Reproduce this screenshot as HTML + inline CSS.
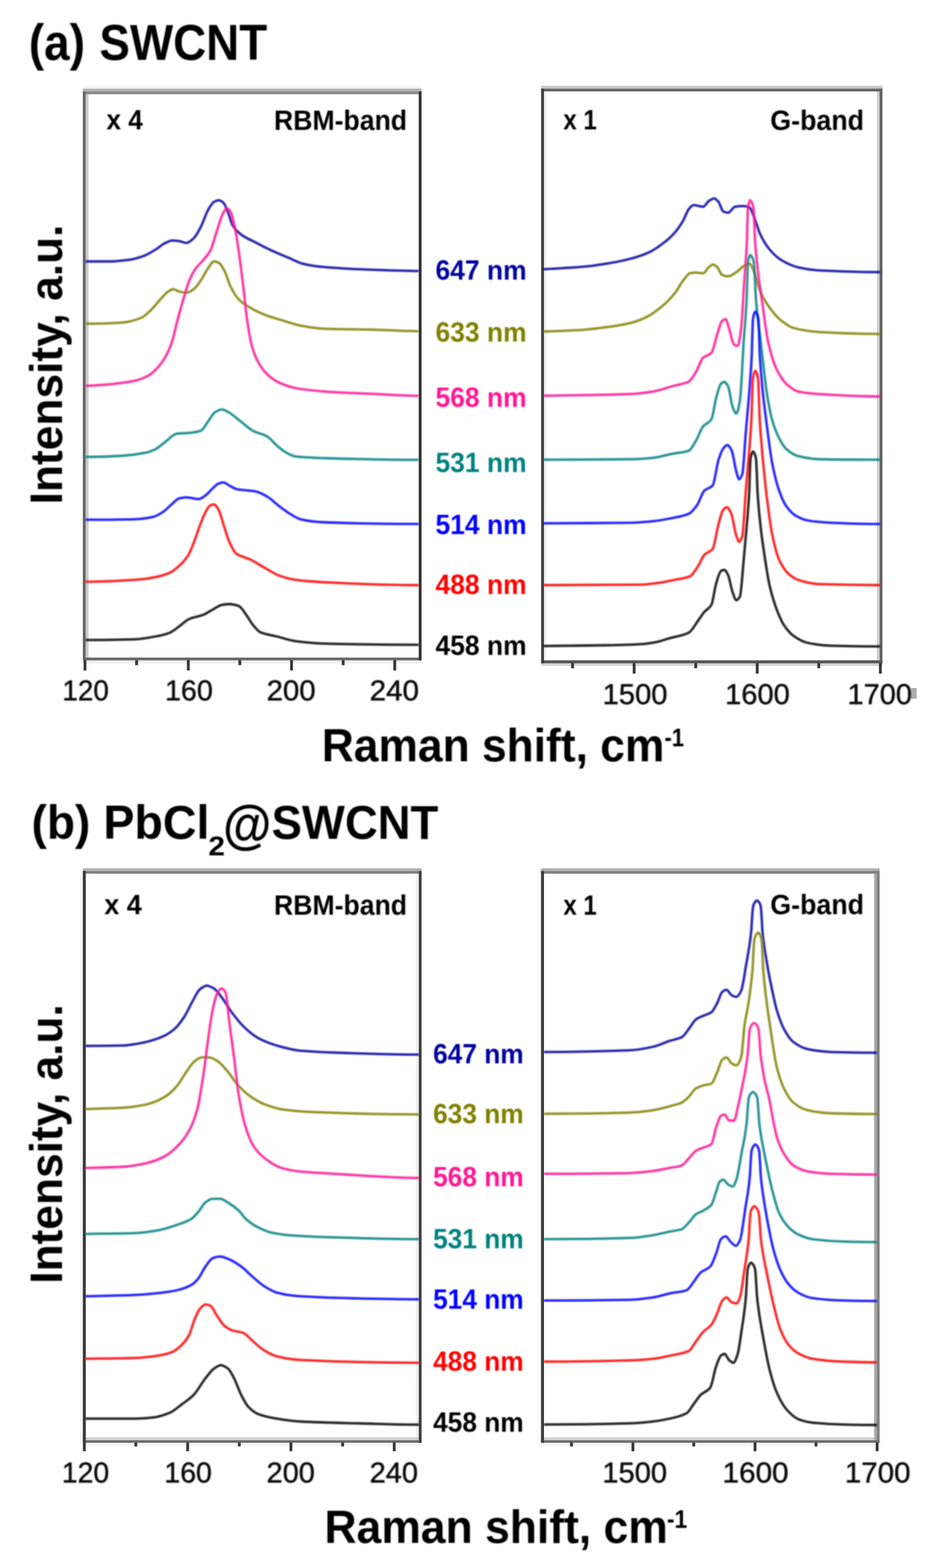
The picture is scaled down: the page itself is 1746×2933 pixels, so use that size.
<!DOCTYPE html>
<html lang="en">
<head>
<meta charset="utf-8">
<title>Raman spectra of SWCNT and PbCl2@SWCNT</title>
<style>
html,body{margin:0;padding:0;background:#fff;}
body{width:1746px;height:2933px;}
svg{display:block;font-family:"Liberation Sans", sans-serif;font-weight:bold;fill:#000;}
.cv{fill:none;stroke-width:4.8;stroke-linejoin:round;stroke-linecap:butt;stroke-opacity:0.82}
</style>
</head>
<body>
<svg width="1746" height="2933" viewBox="0 0 1746 2933" role="img" aria-label="Raman spectra (RBM-band and G-band) of SWCNT and PbCl2@SWCNT at seven laser wavelengths">
<defs>
<filter id="fc" filterUnits="userSpaceOnUse" x="0" y="0" width="1746" height="2933"><feGaussianBlur stdDeviation="1.0"/></filter>
<filter id="ft" filterUnits="userSpaceOnUse" x="0" y="0" width="1746" height="2933"><feGaussianBlur stdDeviation="1.2"/></filter>
<filter id="ff" filterUnits="userSpaceOnUse" x="0" y="0" width="1746" height="2933"><feGaussianBlur stdDeviation="0.5"/></filter>
<clipPath id="clip-aR"><rect x="160.4" y="176.3" width="623.2" height="1053.7"/></clipPath>
<clipPath id="clip-aG"><rect x="1017.9" y="171.0" width="628.3" height="1064.2"/></clipPath>
<clipPath id="clip-bR"><rect x="160.6" y="1634.3" width="623.1" height="1059.8"/></clipPath>
<clipPath id="clip-bG"><rect x="1018.0" y="1634.3" width="623.0" height="1059.8"/></clipPath>
</defs>
<rect x="0" y="0" width="1746" height="2933" fill="#ffffff"/>
<g id="axes" filter="url(#ff)">
<g id="frame-aR">
<rect x="155.0" y="160.4" width="633.9" height="5.4" fill="#f3f3f3"/>
<rect x="155.0" y="1235.2" width="633.9" height="5.7" fill="#eeeeee"/>
<rect x="160.4" y="171.0" width="5.4" height="1064.2" fill="#cccccc"/>
<rect x="155.0" y="165.8" width="633.9" height="5.2" fill="#b3b3b3"/>
<rect x="155.0" y="171.0" width="633.9" height="5.3" fill="#8a8a8a"/>
<rect x="155.0" y="1230.0" width="633.9" height="5.2" fill="#6a6a6a"/>
<rect x="155.0" y="171.0" width="5.4" height="1064.2" fill="#666666"/>
<rect x="783.6" y="171.0" width="5.3" height="1064.2" fill="#333333"/>
<rect x="156.4" y="1234.7" width="5.3" height="19.5" fill="#383838"/>
<rect x="253.0" y="1234.7" width="5.3" height="9.5" fill="#383838"/>
<rect x="349.7" y="1234.7" width="5.3" height="19.5" fill="#383838"/>
<rect x="446.2" y="1234.7" width="5.3" height="9.5" fill="#383838"/>
<rect x="542.9" y="1234.7" width="5.3" height="19.5" fill="#383838"/>
<rect x="639.5" y="1234.7" width="5.3" height="9.5" fill="#383838"/>
<rect x="736.1" y="1234.7" width="5.3" height="19.5" fill="#383838"/>
</g>
<g id="frame-aG">
<rect x="1017.9" y="165.8" width="5.1" height="1074.9" fill="#f0f0f0"/>
<rect x="1012.7" y="1240.7" width="638.6" height="5.0" fill="#d4d4d4"/>
<rect x="1641.1" y="165.8" width="5.1" height="1074.9" fill="#cccccc"/>
<rect x="1012.7" y="160.4" width="638.6" height="5.4" fill="#c6c6c6"/>
<rect x="1012.7" y="165.8" width="638.6" height="5.2" fill="#666666"/>
<rect x="1646.2" y="165.8" width="5.1" height="1074.9" fill="#606060"/>
<rect x="1012.7" y="1235.2" width="638.6" height="5.5" fill="#555555"/>
<rect x="1012.7" y="165.8" width="5.2" height="1074.9" fill="#3c3c3c"/>
<rect x="1068.9" y="1240.2" width="5.3" height="9.8" fill="#383838"/>
<rect x="1184.1" y="1240.2" width="5.3" height="19.8" fill="#383838"/>
<rect x="1299.3" y="1240.2" width="5.3" height="9.8" fill="#383838"/>
<rect x="1414.4" y="1240.2" width="5.3" height="19.8" fill="#383838"/>
<rect x="1529.6" y="1240.2" width="5.3" height="9.8" fill="#383838"/>
<rect x="1644.8" y="1240.2" width="5.3" height="19.8" fill="#383838"/>
</g>
<g id="frame-bR">
<rect x="149.7" y="1629.2" width="5.3" height="1069.5" fill="#f4f4f4"/>
<rect x="155.0" y="2698.7" width="633.9" height="5.3" fill="#f2f2f2"/>
<rect x="778.4" y="1629.2" width="5.3" height="1069.5" fill="#f0f0f0"/>
<rect x="155.0" y="2688.6" width="633.9" height="5.5" fill="#d0d0d0"/>
<rect x="155.0" y="1624.2" width="633.9" height="5.0" fill="#b0b0b0"/>
<rect x="155.0" y="1629.2" width="633.9" height="5.1" fill="#808080"/>
<rect x="155.0" y="2694.1" width="633.9" height="4.6" fill="#6a6a6a"/>
<rect x="783.7" y="1629.2" width="5.2" height="1069.5" fill="#404040"/>
<rect x="155.0" y="1629.2" width="5.6" height="1069.5" fill="#3a3a3a"/>
<rect x="155.2" y="2698.2" width="5.3" height="16.4" fill="#383838"/>
<rect x="251.5" y="2698.2" width="5.3" height="7.4" fill="#383838"/>
<rect x="348.5" y="2698.2" width="5.3" height="16.4" fill="#383838"/>
<rect x="445.2" y="2698.2" width="5.3" height="7.4" fill="#383838"/>
<rect x="541.8" y="2698.2" width="5.3" height="16.4" fill="#383838"/>
<rect x="638.5" y="2698.2" width="5.3" height="7.4" fill="#383838"/>
<rect x="735.1" y="2698.2" width="5.3" height="16.4" fill="#383838"/>
</g>
<g id="frame-bG">
<rect x="1007.2" y="1629.2" width="5.3" height="1069.5" fill="#f8f8f8"/>
<rect x="1012.5" y="2698.7" width="633.6" height="5.3" fill="#f2f2f2"/>
<rect x="1012.5" y="2688.6" width="633.6" height="5.5" fill="#d0d0d0"/>
<rect x="1012.5" y="1624.2" width="633.6" height="5.0" fill="#b0b0b0"/>
<rect x="1635.8" y="1629.2" width="5.2" height="1069.5" fill="#aaaaaa"/>
<rect x="1012.5" y="1629.2" width="633.6" height="5.1" fill="#808080"/>
<rect x="1641.0" y="1629.2" width="5.1" height="1069.5" fill="#808080"/>
<rect x="1012.5" y="2694.1" width="633.6" height="4.6" fill="#6a6a6a"/>
<rect x="1012.5" y="1629.2" width="5.5" height="1069.5" fill="#3a3a3a"/>
<rect x="1066.8" y="2698.2" width="5.3" height="7.4" fill="#383838"/>
<rect x="1181.8" y="2698.2" width="5.3" height="16.4" fill="#383838"/>
<rect x="1295.6" y="2698.2" width="5.3" height="7.4" fill="#383838"/>
<rect x="1410.3" y="2698.2" width="5.3" height="16.4" fill="#383838"/>
<rect x="1524.4" y="2698.2" width="5.3" height="7.4" fill="#383838"/>
<rect x="1638.8" y="2698.2" width="5.3" height="16.4" fill="#383838"/>
</g>
<rect x="1705" y="1287" width="10.5" height="20" fill="#adadad"/>
</g>
<g id="spectra" filter="url(#fc)">
<g id="curves-aR" clip-path="url(#clip-aR)">
<path class="cv" stroke="#0000a0" d="M159.1 489.0C159.4 489.0 159.7 489.0 160.0 489.0C175.6 489.0 191.1 489.0 206.7 489.0C218.6 489.0 230.4 487.5 242.3 485.9C251.2 484.7 260.1 482.0 269.0 478.8C276.4 476.1 283.8 471.2 291.2 466.8C297.1 463.2 303.1 457.5 309.0 454.7C313.5 452.7 317.9 449.9 322.3 449.9C326.8 449.9 331.2 450.6 335.7 451.2C340.1 451.8 344.6 454.3 349.0 454.3C353.5 454.3 357.9 449.9 362.4 445.8C366.8 441.8 371.3 432.9 375.7 424.5C380.2 416.1 384.6 401.1 389.1 393.4C392.8 386.9 396.5 379.8 400.2 377.8C403.1 376.2 406.1 374.7 409.1 374.7C412.0 374.7 415.0 376.7 418.0 379.1C420.9 381.5 423.9 390.8 426.9 397.8C429.8 404.9 432.8 417.6 435.8 422.3C440.9 430.5 446.1 434.9 451.3 438.7C460.2 445.4 469.1 448.7 478.0 453.4C488.4 458.9 498.8 464.2 509.1 469.0C519.5 473.8 529.9 477.9 540.3 482.3C549.2 486.1 558.1 491.3 567.0 493.4C578.8 496.3 590.7 498.1 602.5 499.2C626.3 501.5 650.0 502.7 673.7 503.7C710.8 505.1 747.8 506.8 784.9 506.8C785.3 506.8 785.8 506.8 786.2 506.8"/>
<path class="cv" stroke="#808000" d="M159.1 605.5C159.4 605.5 159.7 605.5 160.0 605.5C183.0 605.5 206.0 604.7 228.9 603.3C240.8 602.6 252.7 599.2 264.5 594.4C270.5 592.0 276.4 585.7 282.3 580.2C288.2 574.6 294.2 566.4 300.1 560.1C305.3 554.7 310.5 547.4 315.7 544.6C318.6 543.0 321.6 541.0 324.6 541.0C328.3 541.0 332.0 544.7 335.7 545.5C340.1 546.4 344.6 547.3 349.0 547.3C353.5 547.3 357.9 544.0 362.4 541.0C366.8 538.0 371.3 530.9 375.7 524.6C380.2 518.3 384.6 508.5 389.1 502.3C392.8 497.2 396.5 489.0 400.2 489.0C403.1 489.0 406.1 490.0 409.1 491.2C412.8 492.7 416.5 500.0 420.2 506.8C423.9 513.5 427.6 528.3 431.3 535.7C436.5 546.0 441.7 554.8 446.9 560.1C452.8 566.2 458.7 569.9 464.7 573.5C475.0 579.8 485.4 585.0 495.8 589.1C507.7 593.6 519.5 596.6 531.4 600.2C541.8 603.3 552.1 607.2 562.5 609.1C577.3 611.8 592.2 614.3 607.0 614.9C636.6 616.0 666.3 615.9 695.9 616.6C725.6 617.3 755.2 619.3 784.9 619.3C785.3 619.3 785.8 619.3 786.2 619.3"/>
<path class="cv" stroke="#ff1493" d="M159.1 721.6C159.4 721.6 159.7 721.6 160.0 721.6C180.0 721.6 200.0 719.2 220.1 717.1C231.9 715.9 243.8 714.2 255.6 711.4C263.0 709.6 270.5 706.6 277.9 702.5C283.8 699.2 289.7 693.4 295.7 686.9C300.8 681.2 306.0 674.1 311.2 664.7C314.9 657.9 318.6 649.2 322.3 638.0C325.3 629.0 328.3 613.7 331.2 602.4C334.9 588.3 338.7 574.9 342.4 562.4C346.1 549.8 349.8 535.9 353.5 526.8C357.2 517.7 360.9 510.0 364.6 504.6C369.8 496.9 375.0 493.2 380.2 486.8C384.6 481.3 389.1 477.2 393.5 469.0C398.0 460.8 402.4 441.8 406.8 428.9C410.6 418.2 414.3 403.8 418.0 397.8C420.2 394.2 422.4 389.8 424.6 389.8C426.9 389.8 429.1 392.6 431.3 395.6C434.3 399.6 437.2 414.8 440.2 428.9C443.2 443.1 446.1 465.4 449.1 486.8C451.3 502.8 453.5 521.6 455.8 540.1C458.0 558.6 460.2 582.8 462.4 598.0C465.4 618.1 468.4 636.3 471.3 646.9C475.0 660.1 478.7 669.0 482.5 675.8C488.4 686.7 494.3 694.7 500.2 700.2C507.7 707.2 515.1 712.4 522.5 715.8C532.9 720.5 543.2 724.2 553.6 726.0C571.4 729.2 589.2 731.0 607.0 732.3C636.6 734.4 666.3 735.4 695.9 736.7C725.6 738.0 755.2 740.3 784.9 740.3C785.3 740.3 785.8 740.3 786.2 740.3"/>
<path class="cv" stroke="#008080" d="M159.1 854.7C159.4 854.7 159.7 854.7 160.0 854.7C183.0 854.7 206.0 853.8 228.9 852.5C243.8 851.7 258.6 849.8 273.4 846.7C279.4 845.5 285.3 843.0 291.2 840.1C297.1 837.1 303.1 831.0 309.0 826.7C316.4 821.4 323.8 812.0 331.2 811.2C338.7 810.3 346.1 810.5 353.5 809.8C360.9 809.2 368.3 808.3 375.7 805.8C380.2 804.3 384.6 794.7 389.1 788.9C393.5 783.1 398.0 773.9 402.4 771.1C406.8 768.4 411.3 765.8 415.7 765.8C420.2 765.8 424.6 769.5 429.1 772.0C436.5 776.2 443.9 783.3 451.3 788.9C458.7 794.6 466.1 801.9 473.6 805.8C482.5 810.5 491.3 811.3 500.2 816.5C506.2 819.9 512.1 828.4 518.0 833.4C524.0 838.4 529.9 843.6 535.8 846.7C541.8 849.8 547.7 853.2 553.6 853.9C571.4 855.9 589.2 856.4 607.0 857.0C666.3 858.7 725.6 860.1 784.9 860.1C785.3 860.1 785.8 860.1 786.2 860.1"/>
<path class="cv" stroke="#0000ff" d="M159.1 972.2C159.4 972.2 159.7 972.2 160.0 972.2C190.4 972.2 220.8 971.9 251.2 971.3C263.0 971.0 274.9 969.4 286.8 966.8C292.7 965.5 298.6 961.7 304.6 957.9C310.5 954.2 316.4 947.2 322.3 942.4C326.8 938.7 331.2 933.1 335.7 932.1C340.1 931.1 344.6 930.4 349.0 930.4C356.4 930.4 363.9 933.5 371.3 933.5C375.7 933.5 380.2 929.8 384.6 926.8C389.1 923.8 393.5 917.4 398.0 913.5C401.7 910.2 405.4 905.9 409.1 904.6C412.0 903.4 415.0 902.3 418.0 902.3C421.7 902.3 425.4 906.2 429.1 908.1C433.5 910.4 438.0 913.8 442.4 914.8C454.3 917.4 466.1 916.8 478.0 919.2C485.4 920.7 492.8 924.8 500.2 929.0C507.7 933.2 515.1 941.3 522.5 946.8C529.9 952.3 537.3 958.1 544.7 962.4C550.6 965.8 556.6 969.9 562.5 971.3C577.3 974.6 592.2 976.5 607.0 977.0C666.3 979.2 725.6 980.2 784.9 980.2C785.3 980.2 785.8 980.2 786.2 980.2"/>
<path class="cv" stroke="#ff0000" d="M159.1 1088.2C159.4 1088.2 159.7 1088.2 160.0 1088.2C190.4 1088.2 220.8 1086.7 251.2 1084.7C264.5 1083.8 277.9 1081.9 291.2 1079.3C300.1 1077.7 309.0 1075.3 317.9 1071.3C323.8 1068.7 329.8 1063.4 335.7 1058.0C340.9 1053.3 346.1 1048.1 351.3 1040.2C355.0 1034.5 358.7 1024.9 362.4 1015.7C366.1 1006.6 369.8 994.2 373.5 984.6C377.2 975.0 380.9 964.4 384.6 957.9C387.6 952.7 390.5 946.8 393.5 945.5C395.7 944.5 398.0 943.7 400.2 943.7C403.1 943.7 406.1 948.7 409.1 953.5C412.0 958.2 415.0 971.3 418.0 980.2C421.7 991.3 425.4 1005.5 429.1 1013.5C433.5 1023.1 438.0 1032.6 442.4 1035.8C451.3 1042.1 460.2 1042.5 469.1 1046.9C478.0 1051.2 486.9 1057.5 495.8 1062.4C504.7 1067.4 513.6 1073.6 522.5 1076.7C532.9 1080.3 543.2 1083.3 553.6 1084.7C571.4 1087.0 589.2 1088.3 607.0 1089.1C666.3 1092.0 725.6 1094.5 784.9 1094.5C785.3 1094.5 785.8 1094.5 786.2 1094.5"/>
<path class="cv" stroke="#000000" d="M159.1 1197.2C159.4 1197.2 159.7 1197.2 160.0 1197.2C190.4 1197.2 220.8 1196.8 251.2 1195.9C264.5 1195.5 277.9 1193.0 291.2 1190.5C300.1 1188.9 309.0 1186.9 317.9 1183.4C323.8 1181.1 329.8 1175.6 335.7 1171.4C341.6 1167.2 347.5 1160.7 353.5 1158.1C362.4 1154.1 371.3 1153.6 380.2 1150.1C386.1 1147.7 392.0 1143.4 398.0 1140.3C403.9 1137.2 409.8 1132.3 415.7 1131.4C420.2 1130.7 424.6 1130.0 429.1 1130.0C435.0 1130.0 440.9 1131.5 446.9 1133.6C451.3 1135.2 455.8 1143.3 460.2 1149.2C464.7 1155.0 469.1 1163.8 473.6 1169.2C478.0 1174.5 482.5 1180.5 486.9 1182.5C497.3 1187.1 507.7 1187.9 518.0 1190.5C529.9 1193.5 541.8 1197.9 553.6 1199.4C571.4 1201.7 589.2 1203.4 607.0 1203.9C666.3 1205.4 725.6 1206.1 784.9 1206.1C785.3 1206.1 785.8 1206.1 786.2 1206.1"/>
</g>
<g id="curves-aG" clip-path="url(#clip-aG)">
<path class="cv" stroke="#0000a0" d="M1015.7 503.7C1040.1 502.2 1064.5 501.3 1088.9 499.2C1103.8 498.0 1118.6 495.8 1133.4 493.4C1148.2 491.1 1163.1 488.3 1177.9 484.5C1189.8 481.5 1201.6 477.8 1213.5 472.5C1222.4 468.6 1231.3 462.3 1240.2 455.6C1247.6 450.1 1255.0 443.9 1262.4 435.6C1267.6 429.8 1272.8 422.1 1278.0 413.4C1281.7 407.1 1285.4 395.5 1289.1 391.1C1292.0 387.7 1295.0 383.6 1298.0 383.6C1303.9 383.6 1309.8 386.7 1315.8 386.7C1319.5 386.7 1323.2 377.9 1326.9 375.6C1330.1 373.6 1333.4 371.1 1336.7 371.1C1339.3 371.1 1342.0 374.7 1344.7 377.8C1347.6 381.3 1350.6 394.3 1353.6 395.6C1356.5 396.9 1359.5 397.8 1362.5 397.8C1366.9 397.8 1371.4 387.4 1375.8 386.7C1381.0 385.9 1386.2 385.4 1391.4 385.4C1395.1 385.4 1398.8 386.4 1402.5 388.0C1405.5 389.3 1408.4 399.6 1411.4 406.7C1415.1 415.6 1418.8 430.1 1422.5 437.8C1428.4 450.3 1434.4 459.8 1440.3 466.8C1447.7 475.4 1455.1 482.4 1462.5 486.8C1472.9 492.9 1483.3 497.8 1493.7 500.1C1507.0 503.1 1520.4 505.2 1533.7 505.9C1570.8 507.8 1607.8 509.0 1644.9 509.0C1645.8 509.0 1646.6 509.0 1647.5 509.0"/>
<path class="cv" stroke="#808000" d="M1015.7 620.2C1040.1 619.2 1064.5 618.6 1088.9 617.1C1103.8 616.1 1118.6 614.2 1133.4 612.2C1148.2 610.2 1163.1 608.1 1177.9 604.6C1188.3 602.2 1198.7 598.4 1209.0 593.5C1217.9 589.3 1226.8 582.8 1235.7 575.7C1244.6 568.6 1253.5 559.8 1262.4 549.0C1268.3 541.8 1274.3 529.4 1280.2 522.3C1283.9 518.0 1287.6 512.0 1291.3 511.2C1295.0 510.4 1298.7 509.9 1302.4 509.9C1306.9 509.9 1311.3 511.2 1315.8 511.2C1319.5 511.2 1323.2 502.0 1326.9 499.2C1329.4 497.3 1331.9 494.8 1334.4 494.8C1337.1 494.8 1339.8 497.6 1342.5 500.1C1345.4 502.9 1348.4 513.1 1351.3 514.3C1355.1 515.9 1358.8 517.0 1362.5 517.0C1367.7 517.0 1372.8 512.3 1378.0 509.0C1383.2 505.8 1388.4 499.0 1393.6 496.5C1396.6 495.2 1399.5 493.4 1402.5 493.4C1405.5 493.4 1408.4 502.4 1411.4 509.0C1415.1 517.3 1418.8 536.0 1422.5 544.6C1428.4 558.3 1434.4 567.6 1440.3 575.7C1447.7 585.8 1455.1 594.4 1462.5 600.2C1469.9 605.9 1477.4 611.6 1484.8 613.5C1501.1 617.8 1517.4 620.1 1533.7 621.1C1570.8 623.2 1607.8 624.6 1644.9 624.6C1645.8 624.6 1646.6 624.6 1647.5 624.6"/>
<path class="cv" stroke="#ff1493" d="M1015.7 740.3C1069.8 739.2 1123.8 739.2 1177.9 737.2C1192.7 736.6 1207.5 734.6 1222.4 732.3C1234.2 730.4 1246.1 725.8 1258.0 722.5C1268.3 719.6 1278.7 718.9 1289.1 713.6C1293.5 711.3 1298.0 702.9 1302.4 695.8C1306.9 688.7 1311.3 673.1 1315.8 669.1C1321.0 664.4 1326.1 665.4 1331.3 660.2C1335.0 656.5 1338.7 635.6 1342.5 624.6C1345.4 615.9 1348.4 602.5 1351.3 600.2C1353.6 598.5 1355.8 597.1 1358.0 597.1C1360.2 597.1 1362.5 609.1 1364.7 615.7C1367.7 624.6 1370.6 642.9 1373.6 644.6C1375.8 645.9 1378.0 646.9 1380.3 646.9C1382.5 646.9 1384.7 631.7 1386.9 615.7C1389.0 600.7 1391.1 550.6 1393.2 520.9C1394.1 508.2 1395.0 498.5 1395.9 484.4C1396.6 473.9 1397.2 464.7 1397.9 447.8C1398.2 439.4 1398.5 421.2 1398.9 411.2C1399.2 402.7 1399.4 392.2 1399.7 389.3C1400.2 384.0 1400.8 381.9 1401.3 380.2C1402.1 377.4 1403.0 374.7 1403.8 374.7C1405.1 374.7 1406.4 377.4 1407.7 380.2C1408.5 381.9 1409.3 384.1 1410.1 389.4C1410.5 392.3 1411.0 402.8 1411.4 411.4C1411.9 421.4 1412.4 439.6 1412.9 448.1C1413.9 465.0 1414.9 474.3 1415.9 484.8C1417.3 499.0 1418.7 510.8 1420.0 521.5C1421.6 533.6 1423.2 542.9 1424.7 553.5C1429.2 583.5 1433.6 623.3 1438.1 642.4C1443.3 664.8 1448.5 680.7 1453.6 691.3C1459.6 703.5 1465.5 712.6 1471.4 718.0C1478.8 724.8 1486.3 730.6 1493.7 732.3C1507.0 735.2 1520.4 736.3 1533.7 737.2C1570.8 739.6 1607.8 741.6 1644.9 741.6C1645.8 741.6 1646.6 741.6 1647.5 741.6"/>
<path class="cv" stroke="#008080" d="M1015.7 859.9C1069.8 859.6 1123.8 859.7 1177.9 859.0C1192.7 858.8 1207.5 857.8 1222.4 856.3C1234.2 855.2 1246.1 851.1 1258.0 848.8C1268.3 846.7 1278.7 846.8 1289.1 843.0C1293.5 841.4 1298.0 831.7 1302.4 824.3C1306.9 817.0 1311.3 803.0 1315.8 797.6C1321.0 791.4 1326.1 792.3 1331.3 784.3C1334.3 779.7 1337.3 754.8 1340.2 744.3C1343.2 733.7 1346.2 720.6 1349.1 718.0C1351.3 716.1 1353.6 714.5 1355.8 714.5C1358.0 714.5 1360.2 718.4 1362.5 722.5C1365.4 727.9 1368.4 755.4 1371.4 762.5C1373.6 767.8 1375.8 773.6 1378.0 773.6C1380.3 773.6 1382.5 762.2 1384.7 749.2C1387.2 734.3 1389.8 665.9 1392.3 630.2C1393.3 616.5 1394.3 606.7 1395.2 591.9C1396.0 580.9 1396.7 571.2 1397.4 553.6C1397.7 544.7 1398.1 525.7 1398.5 515.3C1398.8 506.3 1399.1 495.3 1399.4 492.3C1399.9 486.8 1400.5 484.5 1401.1 482.7C1402.0 479.8 1402.9 477.0 1403.8 477.0C1405.3 477.0 1406.8 479.8 1408.3 482.7C1409.2 484.5 1410.1 486.8 1411.0 492.3C1411.5 495.3 1412.0 506.3 1412.5 515.3C1413.1 525.7 1413.7 544.7 1414.3 553.6C1415.4 571.2 1416.6 580.9 1417.7 591.9C1419.3 606.7 1420.9 617.3 1422.5 630.2C1426.9 666.6 1431.4 713.1 1435.8 740.3C1438.8 758.3 1441.8 773.8 1444.7 784.3C1449.2 800.0 1453.6 811.3 1458.1 819.9C1462.5 828.4 1467.0 835.9 1471.4 839.9C1478.8 846.5 1486.3 851.4 1493.7 853.2C1507.0 856.5 1520.4 858.8 1533.7 859.0C1570.8 859.7 1607.8 859.9 1644.9 859.9C1645.8 859.9 1646.6 859.9 1647.5 859.9"/>
<path class="cv" stroke="#0000ff" d="M1015.7 978.8C1069.8 978.5 1123.8 978.6 1177.9 977.9C1192.7 977.8 1207.5 976.3 1222.4 974.8C1234.2 973.6 1246.1 971.4 1258.0 969.0C1268.3 967.0 1278.7 965.6 1289.1 961.0C1294.3 958.7 1299.5 951.8 1304.6 944.6C1309.1 938.4 1313.5 922.2 1318.0 917.9C1323.2 912.9 1328.4 914.1 1333.6 908.1C1337.3 903.9 1341.0 871.4 1344.7 860.1C1347.6 851.0 1350.6 842.3 1353.6 838.7C1356.1 835.7 1358.6 832.5 1361.1 832.5C1363.8 832.5 1366.5 837.2 1369.1 842.3C1372.1 847.9 1375.1 872.6 1378.0 882.3C1379.8 888.2 1381.6 896.5 1383.4 896.5C1385.3 896.5 1387.2 892.4 1389.2 886.8C1391.4 880.3 1393.6 832.7 1395.8 806.7C1397.7 784.3 1399.7 764.5 1401.6 741.1C1402.6 728.6 1403.6 716.8 1404.6 701.4C1405.4 690.1 1406.1 680.1 1406.9 661.8C1407.2 652.7 1407.6 633.0 1408.0 622.2C1408.3 612.9 1408.6 601.5 1409.0 598.4C1409.5 592.7 1410.1 590.3 1410.7 588.5C1411.7 585.5 1412.6 582.6 1413.6 582.6C1414.8 582.6 1416.0 585.5 1417.1 588.5C1417.9 590.4 1418.6 592.7 1419.3 598.5C1419.7 601.6 1420.1 613.0 1420.5 622.3C1420.9 633.2 1421.4 652.9 1421.8 662.1C1422.8 680.4 1423.7 690.5 1424.6 701.8C1425.8 717.2 1427.1 730.1 1428.3 741.6C1430.1 758.0 1431.9 770.9 1433.6 784.5C1437.3 812.9 1441.0 845.3 1444.7 864.5C1449.2 887.6 1453.6 905.4 1458.1 917.9C1462.5 930.4 1467.0 940.6 1471.4 946.8C1477.4 955.1 1483.3 961.2 1489.2 964.6C1496.6 968.9 1504.0 972.2 1511.5 973.5C1526.3 976.0 1541.1 977.3 1555.9 977.9C1585.6 979.2 1615.2 980.2 1644.9 980.2C1645.8 980.2 1646.6 980.2 1647.5 980.2"/>
<path class="cv" stroke="#ff0000" d="M1015.7 1094.5C1077.2 1094.2 1138.7 1094.3 1200.1 1093.6C1210.5 1093.4 1220.9 1091.8 1231.3 1090.5C1241.6 1089.1 1252.0 1086.8 1262.4 1084.7C1272.0 1082.7 1281.7 1082.1 1291.3 1078.0C1296.5 1075.8 1301.7 1065.8 1306.9 1058.0C1310.6 1052.4 1314.3 1041.9 1318.0 1038.0C1323.2 1032.5 1328.4 1033.5 1333.6 1026.9C1337.3 1022.1 1341.0 993.1 1344.7 980.2C1347.6 969.8 1350.6 956.6 1353.6 953.5C1355.8 951.1 1358.0 949.0 1360.2 949.0C1362.9 949.0 1365.6 954.6 1368.2 960.1C1371.5 966.9 1374.8 993.5 1378.0 1002.4C1379.8 1007.2 1381.6 1013.5 1383.4 1013.5C1385.3 1013.5 1387.2 1008.7 1389.2 1002.4C1391.4 995.1 1393.6 945.2 1395.8 917.9C1397.6 896.0 1399.4 876.0 1401.2 854.0C1402.2 841.0 1403.3 829.5 1404.3 814.0C1405.1 802.5 1405.9 792.4 1406.6 773.9C1407.0 764.6 1407.4 744.8 1407.8 733.8C1408.1 724.4 1408.5 712.9 1408.8 709.8C1409.4 704.0 1410.0 701.6 1410.6 699.8C1411.6 696.7 1412.6 693.7 1413.6 693.7C1414.7 693.7 1415.8 696.7 1416.9 699.8C1417.5 701.6 1418.2 704.0 1418.8 709.8C1419.2 712.9 1419.6 724.4 1419.9 733.8C1420.3 744.8 1420.8 764.6 1421.2 773.9C1422.0 792.4 1422.9 802.5 1423.7 814.0C1424.9 829.5 1426.0 841.7 1427.1 854.0C1429.3 877.4 1431.5 899.7 1433.6 917.9C1437.3 949.1 1441.0 979.8 1444.7 998.0C1449.2 1019.8 1453.6 1037.2 1458.1 1046.9C1464.0 1059.8 1469.9 1068.3 1475.9 1073.6C1481.8 1078.8 1487.7 1082.8 1493.7 1084.7C1507.0 1089.0 1520.4 1092.2 1533.7 1092.7C1570.8 1093.9 1607.8 1094.5 1644.9 1094.5C1645.8 1094.5 1646.6 1094.5 1647.5 1094.5"/>
<path class="cv" stroke="#000000" d="M1015.7 1208.3C1054.9 1207.9 1094.2 1207.7 1133.4 1207.0C1155.7 1206.6 1177.9 1206.1 1200.1 1204.8C1210.5 1204.2 1220.9 1202.4 1231.3 1200.3C1238.7 1198.8 1246.1 1195.8 1253.5 1193.6C1265.4 1190.2 1277.2 1189.4 1289.1 1183.4C1295.0 1180.4 1300.9 1168.3 1306.9 1160.3C1310.6 1155.3 1314.3 1149.1 1318.0 1144.7C1322.4 1139.5 1326.9 1139.0 1331.3 1131.4C1334.3 1126.3 1337.3 1101.1 1340.2 1091.3C1343.2 1081.6 1346.2 1069.9 1349.1 1068.2C1351.3 1067.0 1353.6 1066.0 1355.8 1066.0C1358.0 1066.0 1360.2 1071.2 1362.5 1075.8C1365.4 1081.9 1368.4 1101.5 1371.4 1109.1C1373.6 1114.9 1375.8 1122.5 1378.0 1122.5C1380.3 1122.5 1382.5 1119.8 1384.7 1115.8C1386.9 1111.8 1389.2 1074.6 1391.4 1051.3C1393.2 1032.5 1395.0 1010.6 1396.8 990.0C1397.8 978.0 1398.9 967.7 1399.9 953.7C1400.7 943.3 1401.4 934.1 1402.2 917.3C1402.6 908.9 1403.0 890.8 1403.4 880.9C1403.7 872.4 1404.0 861.9 1404.4 859.1C1405.0 853.8 1405.6 851.7 1406.2 850.0C1407.2 847.2 1408.2 844.5 1409.2 844.5C1410.4 844.5 1411.5 847.2 1412.7 850.0C1413.5 851.7 1414.2 853.8 1414.9 859.1C1415.3 862.0 1415.7 872.4 1416.1 881.0C1416.6 890.9 1417.0 909.0 1417.5 917.5C1418.4 934.3 1419.3 943.5 1420.2 953.9C1421.5 968.0 1422.8 979.7 1424.0 990.4C1425.7 1005.1 1427.5 1017.4 1429.2 1029.1C1432.9 1054.1 1436.6 1079.8 1440.3 1095.8C1444.7 1115.0 1449.2 1128.6 1453.6 1140.3C1458.1 1151.9 1462.5 1162.5 1467.0 1169.2C1472.9 1178.1 1478.8 1185.0 1484.8 1189.2C1493.7 1195.5 1502.6 1200.7 1511.5 1202.5C1526.3 1205.6 1541.1 1207.4 1555.9 1207.9C1585.6 1208.7 1615.2 1209.2 1644.9 1209.2C1645.8 1209.2 1646.6 1209.2 1647.5 1209.2"/>
</g>
<g id="curves-bR" clip-path="url(#clip-bR)">
<path class="cv" stroke="#0000a0" d="M157.8 1956.5C181.5 1956.3 205.2 1956.2 228.9 1955.7C243.8 1955.3 258.6 1952.1 273.4 1949.0C283.8 1946.8 294.2 1943.3 304.6 1938.8C312.0 1935.5 319.4 1930.9 326.8 1924.5C332.7 1919.4 338.7 1911.2 344.6 1902.3C349.8 1894.5 355.0 1882.5 360.1 1873.4C364.6 1865.6 369.0 1854.9 373.5 1851.1C377.9 1847.4 382.4 1843.6 386.8 1843.6C391.3 1843.6 395.7 1846.3 400.2 1848.9C405.4 1852.0 410.6 1860.0 415.7 1866.7C421.7 1874.4 427.6 1885.5 433.5 1893.4C440.9 1903.3 448.4 1912.9 455.8 1920.1C464.7 1928.7 473.6 1936.6 482.5 1941.4C494.3 1947.9 506.2 1952.3 518.0 1955.7C532.9 1959.9 547.7 1964.1 562.5 1965.4C584.7 1967.4 607.0 1968.3 629.2 1969.0C681.1 1970.8 733.0 1972.6 784.9 1972.6C785.3 1972.6 785.7 1972.6 786.1 1972.6"/>
<path class="cv" stroke="#808000" d="M157.8 2074.4C181.5 2073.7 205.2 2073.5 228.9 2072.2C243.8 2071.4 258.6 2069.1 273.4 2066.0C285.3 2063.4 297.1 2058.2 309.0 2051.3C316.4 2047.0 323.8 2039.7 331.2 2031.3C337.2 2024.5 343.1 2012.8 349.0 2004.6C354.2 1997.4 359.4 1988.3 364.6 1984.6C369.0 1981.4 373.5 1977.9 377.9 1977.9C382.4 1977.9 386.8 1977.9 391.3 1977.9C396.5 1977.9 401.7 1981.5 406.8 1984.6C412.8 1988.1 418.7 1995.6 424.6 2002.4C431.3 2010.0 438.0 2021.8 444.6 2029.0C452.8 2037.9 461.0 2045.7 469.1 2051.3C478.0 2057.4 486.9 2062.6 495.8 2066.0C507.7 2070.4 519.5 2074.2 531.4 2075.7C549.2 2078.1 567.0 2079.5 584.7 2080.2C651.5 2082.8 718.2 2084.6 784.9 2084.6C785.3 2084.6 785.7 2084.6 786.1 2084.6"/>
<path class="cv" stroke="#ff1493" d="M157.8 2184.7C181.5 2184.0 205.2 2183.8 228.9 2182.5C243.8 2181.7 258.6 2179.0 273.4 2175.8C285.3 2173.2 297.1 2168.7 309.0 2162.5C317.9 2157.8 326.8 2149.8 335.7 2140.2C342.4 2133.1 349.0 2124.1 355.7 2111.3C360.1 2102.8 364.6 2092.0 369.0 2075.7C372.7 2062.2 376.5 2037.4 380.2 2013.5C383.1 1994.4 386.1 1967.4 389.1 1946.8C392.0 1926.1 395.0 1902.4 398.0 1888.9C400.9 1875.5 403.9 1862.8 406.8 1857.8C409.5 1853.4 412.2 1848.9 414.9 1848.9C417.4 1848.9 419.9 1852.6 422.4 1857.8C424.6 1862.4 426.9 1893.9 429.1 1911.2C432.0 1934.2 435.0 1954.9 438.0 1977.9C440.9 2000.9 443.9 2031.1 446.9 2049.1C450.6 2071.5 454.3 2089.8 458.0 2102.4C463.2 2120.1 468.4 2134.3 473.6 2142.5C481.0 2154.2 488.4 2161.2 495.8 2166.9C506.2 2174.9 516.5 2181.7 526.9 2184.7C538.8 2188.1 550.6 2190.1 562.5 2191.4C584.7 2193.7 607.0 2194.5 629.2 2195.8C681.1 2198.8 733.0 2203.4 784.9 2203.4C785.3 2203.4 785.7 2203.4 786.1 2203.4"/>
<path class="cv" stroke="#008080" d="M157.8 2308.1C188.9 2307.6 220.1 2307.6 251.2 2306.7C266.0 2306.3 280.8 2304.0 295.7 2301.4C307.5 2299.4 319.4 2295.2 331.2 2291.2C340.1 2288.1 349.0 2285.5 357.9 2280.1C362.4 2277.3 366.8 2271.8 371.3 2266.7C375.7 2261.6 380.2 2252.2 384.6 2248.9C389.1 2245.7 393.5 2242.3 398.0 2242.3C402.4 2242.3 406.8 2242.3 411.3 2242.3C417.2 2242.3 423.2 2247.6 429.1 2251.1C435.0 2254.7 440.9 2259.0 446.9 2264.5C451.3 2268.6 455.8 2276.1 460.2 2280.1C467.6 2286.7 475.0 2291.9 482.5 2295.6C491.3 2300.1 500.2 2304.0 509.1 2305.8C522.5 2308.6 535.8 2310.2 549.2 2311.2C575.8 2313.1 602.5 2314.0 629.2 2314.7C681.1 2316.2 733.0 2317.9 784.9 2317.9C785.3 2317.9 785.7 2317.9 786.1 2317.9"/>
<path class="cv" stroke="#0000ff" d="M157.8 2424.6C188.9 2423.9 220.1 2423.6 251.2 2422.4C266.0 2421.8 280.8 2420.4 295.7 2418.8C307.5 2417.6 319.4 2416.1 331.2 2413.5C340.1 2411.5 349.0 2408.6 357.9 2403.7C362.4 2401.2 366.8 2396.6 371.3 2391.2C375.7 2385.9 380.2 2375.1 384.6 2369.0C389.1 2362.9 393.5 2355.2 398.0 2353.4C402.4 2351.7 406.8 2350.3 411.3 2350.3C417.2 2350.3 423.2 2353.3 429.1 2355.7C436.5 2358.6 443.9 2363.7 451.3 2369.0C458.7 2374.3 466.1 2382.7 473.6 2389.0C481.0 2395.3 488.4 2402.2 495.8 2406.8C503.2 2411.4 510.6 2415.9 518.0 2417.9C528.4 2420.8 538.8 2422.8 549.2 2423.7C575.8 2426.0 602.5 2427.0 629.2 2427.7C681.1 2429.1 733.0 2430.4 784.9 2430.4C785.3 2430.4 785.7 2430.4 786.1 2430.4"/>
<path class="cv" stroke="#ff0000" d="M157.8 2541.6C188.9 2541.1 220.1 2541.1 251.2 2540.2C266.0 2539.8 280.8 2538.0 295.7 2535.8C304.6 2534.5 313.5 2532.6 322.3 2529.1C328.3 2526.8 334.2 2521.5 340.1 2515.8C344.6 2511.4 349.0 2506.1 353.5 2498.0C357.2 2491.2 360.9 2475.4 364.6 2466.8C367.6 2460.0 370.5 2452.5 373.5 2449.1C377.2 2444.8 380.9 2440.2 384.6 2440.2C387.6 2440.2 390.5 2441.2 393.5 2442.4C398.0 2444.2 402.4 2456.1 406.8 2462.4C411.3 2468.7 415.7 2476.5 420.2 2480.2C424.6 2483.9 429.1 2486.6 433.5 2488.2C440.9 2490.8 448.4 2490.7 455.8 2493.5C461.7 2495.8 467.6 2504.1 473.6 2509.1C481.0 2515.3 488.4 2522.6 495.8 2526.9C503.2 2531.2 510.6 2535.3 518.0 2537.1C532.9 2540.7 547.7 2543.1 562.5 2543.8C636.6 2547.4 710.8 2549.1 784.9 2549.1C785.3 2549.1 785.7 2549.1 786.1 2549.1"/>
<path class="cv" stroke="#000000" d="M157.8 2653.6C188.9 2653.6 220.1 2653.6 251.2 2653.6C263.0 2653.6 274.9 2652.6 286.8 2651.4C297.1 2650.3 307.5 2646.8 317.9 2642.5C325.3 2639.4 332.7 2632.5 340.1 2627.0C347.5 2621.4 355.0 2616.7 362.4 2609.2C369.8 2601.6 377.2 2587.3 384.6 2578.0C389.8 2571.5 395.0 2563.8 400.2 2560.2C404.6 2557.2 409.1 2553.6 413.5 2553.6C418.0 2553.6 422.4 2556.8 426.9 2560.2C430.6 2563.1 434.3 2571.0 438.0 2578.0C442.4 2586.4 446.9 2600.5 451.3 2609.2C455.8 2617.8 460.2 2626.7 464.7 2631.4C470.6 2637.6 476.5 2642.4 482.5 2644.7C494.3 2649.5 506.2 2651.7 518.0 2653.6C532.9 2656.1 547.7 2658.2 562.5 2659.0C599.6 2661.0 636.6 2661.6 673.7 2662.5C710.8 2663.4 747.8 2664.8 784.9 2664.8C785.3 2664.8 785.7 2664.8 786.1 2664.8"/>
</g>
<g id="curves-bG" clip-path="url(#clip-bG)">
<path class="cv" stroke="#0000a0" d="M1015.2 1967.8C1015.3 1967.8 1015.4 1967.8 1015.6 1967.8C1069.7 1967.8 1123.8 1966.8 1177.9 1964.7C1192.7 1964.1 1207.5 1961.2 1222.4 1958.0C1232.7 1955.7 1243.1 1950.2 1253.5 1946.9C1260.9 1944.5 1268.3 1943.9 1275.7 1940.2C1280.2 1938.0 1284.6 1930.2 1289.1 1924.6C1293.5 1919.1 1298.0 1910.1 1302.4 1906.8C1306.9 1903.6 1311.3 1902.2 1315.8 1900.2C1321.0 1897.8 1326.1 1897.1 1331.3 1893.5C1335.0 1890.9 1338.7 1882.7 1342.5 1875.7C1345.4 1870.1 1348.4 1858.3 1351.3 1855.7C1354.0 1853.3 1356.7 1851.3 1359.4 1851.3C1362.6 1851.3 1365.9 1859.8 1369.1 1861.5C1372.1 1863.0 1375.1 1864.6 1378.0 1864.6C1381.0 1864.6 1384.0 1859.4 1386.9 1853.5C1390.4 1846.5 1393.9 1817.3 1397.5 1797.8C1399.1 1788.7 1400.7 1780.4 1402.3 1769.5C1403.5 1761.4 1404.7 1754.2 1405.9 1741.1C1406.5 1734.6 1407.1 1720.5 1407.7 1712.8C1408.2 1706.2 1408.8 1698.0 1409.3 1695.8C1410.2 1691.7 1411.2 1690.0 1412.1 1688.7C1413.6 1686.6 1415.2 1684.5 1416.7 1684.5C1418.2 1684.5 1419.6 1686.6 1421.0 1688.7C1421.9 1690.1 1422.8 1691.7 1423.7 1695.9C1424.2 1698.1 1424.7 1706.3 1425.1 1712.9C1425.7 1720.7 1426.3 1734.8 1426.8 1741.4C1427.9 1754.5 1429.1 1761.8 1430.2 1769.9C1431.7 1780.9 1433.2 1789.5 1434.7 1798.3C1437.3 1813.4 1439.9 1827.5 1442.5 1840.1C1446.2 1858.2 1449.9 1876.7 1453.6 1889.1C1458.1 1903.9 1462.5 1916.4 1467.0 1924.6C1472.9 1935.6 1478.8 1944.6 1484.8 1949.1C1493.7 1955.8 1502.6 1960.6 1511.5 1962.4C1526.3 1965.5 1541.1 1967.3 1555.9 1967.8C1584.1 1968.6 1612.3 1969.1 1640.4 1969.1C1640.8 1969.1 1641.1 1969.1 1641.5 1969.1"/>
<path class="cv" stroke="#808000" d="M1015.2 2083.4C1015.3 2083.4 1015.4 2083.4 1015.6 2083.4C1069.7 2083.4 1123.8 2082.7 1177.9 2081.2C1192.7 2080.8 1207.5 2078.9 1222.4 2076.7C1232.7 2075.2 1243.1 2072.0 1253.5 2069.2C1260.9 2067.2 1268.3 2065.9 1275.7 2062.5C1280.2 2060.5 1284.6 2055.7 1289.1 2051.4C1293.5 2047.1 1298.0 2038.5 1302.4 2035.8C1306.9 2033.2 1311.3 2031.8 1315.8 2030.5C1321.0 2029.0 1326.1 2029.2 1331.3 2026.9C1335.0 2025.3 1338.7 2013.0 1342.5 2004.7C1345.4 1998.1 1348.4 1985.1 1351.3 1982.5C1354.0 1980.1 1356.7 1978.0 1359.4 1978.0C1362.6 1978.0 1365.9 1987.2 1369.1 1989.1C1372.1 1990.9 1375.1 1992.7 1378.0 1992.7C1381.0 1992.7 1384.0 1986.6 1386.9 1978.0C1389.2 1971.6 1391.4 1931.2 1393.6 1915.7C1395.8 1900.8 1397.9 1893.5 1400.1 1880.1C1401.7 1870.1 1403.2 1859.3 1404.8 1846.2C1406.0 1836.5 1407.2 1827.9 1408.4 1812.3C1409.0 1804.5 1409.5 1787.7 1410.1 1778.4C1410.6 1770.5 1411.1 1760.7 1411.6 1758.1C1412.6 1753.2 1413.5 1751.2 1414.4 1749.6C1415.9 1747.0 1417.4 1744.5 1418.9 1744.5C1420.3 1744.5 1421.6 1747.0 1422.9 1749.6C1423.7 1751.2 1424.5 1753.2 1425.4 1758.1C1425.8 1760.8 1426.2 1770.5 1426.7 1778.4C1427.2 1787.7 1427.7 1804.6 1428.2 1812.4C1429.3 1828.0 1430.3 1836.6 1431.3 1846.3C1432.7 1859.4 1434.1 1869.7 1435.5 1880.3C1437.8 1897.9 1440.2 1913.9 1442.5 1929.1C1446.2 1953.1 1449.9 1980.8 1453.6 1995.8C1458.1 2013.8 1462.5 2026.8 1467.0 2035.8C1472.9 2047.9 1478.8 2057.7 1484.8 2062.5C1493.7 2069.7 1502.6 2074.8 1511.5 2076.7C1526.3 2080.0 1541.1 2082.1 1555.9 2082.5C1584.1 2083.4 1612.3 2083.9 1640.4 2083.9C1640.8 2083.9 1641.1 2083.9 1641.5 2083.9"/>
<path class="cv" stroke="#ff1493" d="M1015.2 2195.6C1015.3 2195.6 1015.4 2195.6 1015.6 2195.6C1069.7 2195.6 1123.8 2195.3 1177.9 2194.3C1192.7 2194.0 1207.5 2192.1 1222.4 2190.3C1232.7 2189.0 1243.1 2186.5 1253.5 2184.5C1260.9 2183.1 1268.3 2182.7 1275.7 2180.1C1280.2 2178.5 1284.6 2171.3 1289.1 2166.7C1293.5 2162.1 1298.0 2155.2 1302.4 2152.5C1306.9 2149.7 1311.3 2148.6 1315.8 2146.7C1321.0 2144.5 1326.1 2144.3 1331.3 2140.0C1334.3 2137.6 1337.3 2117.4 1340.2 2108.9C1343.2 2100.3 1346.2 2088.8 1349.1 2087.1C1351.3 2085.8 1353.6 2084.9 1355.8 2084.9C1358.8 2084.9 1361.7 2096.0 1364.7 2096.0C1367.7 2096.0 1370.6 2096.0 1373.6 2096.0C1376.3 2096.0 1378.9 2078.0 1381.6 2067.1C1384.5 2055.4 1387.3 2040.7 1390.2 2026.4C1392.0 2017.5 1393.8 2009.1 1395.5 1998.2C1396.9 1990.2 1398.2 1983.1 1399.5 1970.0C1400.2 1963.5 1400.8 1949.6 1401.5 1941.8C1402.1 1935.2 1402.6 1927.2 1403.2 1924.9C1404.2 1920.8 1405.3 1919.2 1406.3 1917.9C1408.0 1915.7 1409.7 1913.7 1411.4 1913.7C1413.1 1913.7 1414.7 1915.7 1416.4 1917.9C1417.4 1919.2 1418.4 1920.9 1419.5 1925.0C1420.0 1927.2 1420.6 1935.3 1421.1 1942.0C1421.8 1949.7 1422.4 1963.8 1423.1 1970.3C1424.4 1983.4 1425.7 1990.6 1427.0 1998.6C1428.7 2009.6 1430.5 2019.1 1432.3 2027.0C1434.2 2035.7 1436.1 2040.9 1438.1 2049.3C1441.8 2065.4 1445.5 2089.7 1449.2 2107.1C1450.7 2114.1 1452.2 2121.9 1453.6 2126.7C1458.1 2141.0 1462.5 2150.5 1467.0 2157.8C1472.9 2167.6 1478.8 2176.2 1484.8 2180.1C1493.7 2185.8 1502.6 2189.7 1511.5 2191.2C1526.3 2193.7 1541.1 2195.2 1555.9 2195.6C1584.1 2196.5 1612.3 2197.0 1640.4 2197.0C1640.8 2197.0 1641.1 2197.0 1641.5 2197.0"/>
<path class="cv" stroke="#008080" d="M1015.2 2317.9C1015.3 2317.9 1015.4 2317.9 1015.6 2317.9C1069.7 2317.9 1123.8 2317.3 1177.9 2315.7C1192.7 2315.3 1207.5 2312.7 1222.4 2310.4C1232.7 2308.7 1243.1 2305.8 1253.5 2303.7C1260.9 2302.2 1268.3 2301.8 1275.7 2299.2C1280.2 2297.7 1284.6 2291.4 1289.1 2286.8C1293.5 2282.2 1298.0 2274.3 1302.4 2271.2C1306.9 2268.1 1311.3 2267.2 1315.8 2264.6C1321.0 2261.5 1326.1 2259.7 1331.3 2253.4C1334.3 2249.9 1337.3 2237.2 1340.2 2229.0C1342.5 2222.8 1344.7 2212.3 1346.9 2210.3C1349.1 2208.3 1351.3 2206.7 1353.6 2206.7C1356.5 2206.7 1359.5 2213.9 1362.5 2215.6C1365.4 2217.3 1368.4 2219.2 1371.4 2219.2C1373.6 2219.2 1375.8 2212.6 1378.0 2206.7C1381.5 2197.5 1385.0 2171.0 1388.5 2152.7C1390.3 2143.7 1392.0 2135.9 1393.8 2125.2C1395.0 2117.4 1396.3 2110.4 1397.6 2097.7C1398.2 2091.3 1398.9 2077.7 1399.5 2070.2C1400.1 2063.7 1400.6 2055.8 1401.2 2053.6C1402.2 2049.7 1403.2 2048.0 1404.2 2046.8C1405.9 2044.7 1407.5 2042.6 1409.2 2042.6C1410.8 2042.6 1412.5 2044.7 1414.1 2046.8C1415.1 2048.1 1416.2 2049.8 1417.2 2053.9C1417.7 2056.1 1418.3 2064.1 1418.8 2070.7C1419.5 2078.4 1420.1 2092.3 1420.7 2098.8C1422.0 2111.7 1423.3 2118.8 1424.6 2126.8C1426.4 2137.7 1428.1 2146.1 1429.9 2154.9C1434.8 2179.9 1439.8 2205.3 1444.7 2224.5C1449.2 2241.8 1453.6 2259.6 1458.1 2269.0C1464.0 2281.5 1469.9 2289.8 1475.9 2295.7C1481.8 2301.6 1487.7 2306.2 1493.7 2309.0C1502.6 2313.2 1511.5 2316.7 1520.4 2317.9C1539.6 2320.5 1558.9 2321.9 1578.2 2322.4C1598.9 2322.9 1619.7 2323.3 1640.4 2323.3C1640.8 2323.3 1641.1 2323.3 1641.5 2323.3"/>
<path class="cv" stroke="#0000ff" d="M1015.2 2432.7C1015.3 2432.7 1015.4 2432.7 1015.6 2432.7C1069.7 2432.7 1123.8 2432.3 1177.9 2431.3C1192.7 2431.1 1207.5 2429.0 1222.4 2426.9C1232.7 2425.4 1243.1 2421.5 1253.5 2419.3C1263.9 2417.1 1274.3 2417.2 1284.6 2413.5C1289.1 2412.0 1293.5 2403.5 1298.0 2398.0C1302.4 2392.4 1306.9 2384.0 1311.3 2380.2C1317.3 2375.1 1323.2 2375.1 1329.1 2369.1C1332.8 2365.3 1336.5 2354.1 1340.2 2344.6C1343.2 2337.0 1346.2 2320.9 1349.1 2317.9C1352.1 2315.0 1355.1 2312.6 1358.0 2312.6C1361.0 2312.6 1363.9 2319.6 1366.9 2322.4C1370.3 2325.5 1373.7 2330.4 1377.1 2330.4C1379.7 2330.4 1382.2 2325.5 1384.7 2320.1C1388.2 2312.7 1391.7 2279.0 1395.2 2257.6C1396.7 2248.1 1398.3 2239.7 1399.9 2228.4C1401.0 2220.1 1402.2 2212.7 1403.3 2199.3C1403.9 2192.5 1404.4 2178.1 1405.0 2170.1C1405.5 2163.3 1406.0 2154.9 1406.5 2152.6C1407.4 2148.4 1408.3 2146.6 1409.2 2145.3C1410.7 2143.1 1412.1 2140.9 1413.6 2140.9C1415.1 2140.9 1416.5 2143.1 1417.9 2145.3C1418.8 2146.7 1419.7 2148.4 1420.6 2152.6C1421.1 2154.9 1421.5 2163.3 1422.0 2170.2C1422.6 2178.2 1423.1 2192.7 1423.7 2199.4C1424.8 2213.0 1425.9 2220.4 1427.1 2228.7C1428.6 2240.0 1430.1 2249.2 1431.6 2258.0C1436.7 2287.5 1441.9 2316.6 1447.0 2335.7C1451.4 2352.4 1455.9 2366.0 1460.3 2375.7C1465.5 2387.1 1470.7 2396.4 1475.9 2402.4C1481.8 2409.3 1487.7 2414.7 1493.7 2418.0C1502.6 2422.9 1511.5 2427.0 1520.4 2428.2C1539.6 2430.9 1558.9 2432.2 1578.2 2432.7C1598.9 2433.2 1619.7 2433.6 1640.4 2433.6C1640.8 2433.6 1641.1 2433.6 1641.5 2433.6"/>
<path class="cv" stroke="#ff0000" d="M1015.2 2547.0C1015.3 2547.0 1015.4 2547.0 1015.6 2547.0C1069.7 2547.0 1123.8 2546.2 1177.9 2544.7C1192.7 2544.4 1207.5 2543.2 1222.4 2541.6C1232.7 2540.5 1243.1 2538.1 1253.5 2535.8C1265.4 2533.3 1277.2 2532.5 1289.1 2527.0C1293.5 2524.9 1298.0 2515.1 1302.4 2509.2C1306.9 2503.2 1311.3 2496.0 1315.8 2491.4C1321.0 2485.9 1326.1 2484.4 1331.3 2478.0C1335.0 2473.5 1338.7 2464.1 1342.5 2455.8C1345.4 2449.2 1348.4 2437.2 1351.3 2433.6C1354.0 2430.3 1356.7 2426.9 1359.4 2426.9C1362.6 2426.9 1365.9 2434.5 1369.1 2435.8C1372.1 2436.9 1375.1 2438.0 1378.0 2438.0C1380.3 2438.0 1382.5 2432.6 1384.7 2426.9C1387.6 2419.4 1390.5 2391.1 1393.5 2372.7C1395.0 2363.2 1396.5 2354.9 1398.0 2343.7C1399.1 2335.4 1400.2 2328.0 1401.4 2314.6C1401.9 2307.9 1402.5 2293.5 1403.0 2285.6C1403.5 2278.8 1404.0 2270.5 1404.5 2268.2C1405.3 2264.0 1406.2 2262.3 1407.1 2260.9C1408.5 2258.7 1410.0 2256.5 1411.4 2256.5C1413.1 2256.5 1414.9 2258.7 1416.6 2260.9C1417.7 2262.3 1418.8 2264.0 1419.9 2268.2C1420.4 2270.5 1421.0 2278.9 1421.6 2285.7C1422.3 2293.7 1423.0 2308.2 1423.7 2314.9C1425.0 2328.4 1426.4 2335.8 1427.8 2344.1C1429.6 2355.4 1431.5 2364.0 1433.3 2373.3C1437.9 2396.1 1442.4 2419.2 1447.0 2438.0C1451.4 2456.4 1455.9 2475.9 1460.3 2486.9C1465.5 2499.8 1470.7 2509.6 1475.9 2515.8C1481.8 2522.9 1487.7 2528.2 1493.7 2531.4C1502.6 2536.3 1511.5 2540.2 1520.4 2541.6C1539.6 2544.7 1558.9 2546.3 1578.2 2547.0C1598.9 2547.7 1619.7 2548.3 1640.4 2548.3C1640.8 2548.3 1641.1 2548.3 1641.5 2548.3"/>
<path class="cv" stroke="#000000" d="M1015.2 2664.6C1015.3 2664.6 1015.4 2664.6 1015.6 2664.6C1069.7 2664.6 1123.8 2663.9 1177.9 2662.4C1192.7 2662.0 1207.5 2660.5 1222.4 2658.8C1232.7 2657.7 1243.1 2655.8 1253.5 2653.5C1263.9 2651.2 1274.3 2649.4 1284.6 2643.7C1289.1 2641.3 1293.5 2632.6 1298.0 2626.8C1302.4 2621.0 1306.9 2613.4 1311.3 2609.0C1317.3 2603.3 1323.2 2603.4 1329.1 2595.7C1332.8 2590.8 1336.5 2565.8 1340.2 2555.7C1343.2 2547.5 1346.2 2537.9 1349.1 2535.6C1351.3 2534.0 1353.6 2532.5 1355.8 2532.5C1358.8 2532.5 1361.7 2542.2 1364.7 2544.5C1367.4 2546.6 1370.0 2549.0 1372.7 2549.0C1375.2 2549.0 1377.7 2541.1 1380.3 2533.4C1383.1 2524.9 1385.8 2501.4 1388.6 2483.2C1390.1 2473.8 1391.5 2464.6 1392.9 2452.9C1394.0 2444.3 1395.0 2436.6 1396.1 2422.7C1396.6 2415.7 1397.2 2400.7 1397.7 2392.4C1398.1 2385.4 1398.6 2376.7 1399.0 2374.3C1399.9 2369.9 1400.7 2368.1 1401.5 2366.7C1402.9 2364.4 1404.2 2362.2 1405.6 2362.2C1407.2 2362.2 1408.7 2364.4 1410.3 2366.7C1411.2 2368.2 1412.2 2369.9 1413.1 2374.3C1413.6 2376.7 1414.1 2385.4 1414.7 2392.5C1415.3 2400.8 1415.9 2415.9 1416.5 2422.9C1417.7 2436.9 1418.9 2444.5 1420.1 2453.2C1421.7 2464.9 1423.4 2474.2 1425.0 2483.5C1430.1 2512.6 1435.2 2542.4 1440.3 2562.3C1444.7 2579.7 1449.2 2594.4 1453.6 2604.6C1459.6 2618.1 1465.5 2628.9 1471.4 2635.7C1478.8 2644.2 1486.3 2651.5 1493.7 2654.4C1502.6 2657.9 1511.5 2660.1 1520.4 2661.1C1539.6 2663.1 1558.9 2664.2 1578.2 2664.6C1598.9 2665.1 1619.7 2665.5 1640.4 2665.5C1640.8 2665.5 1641.1 2665.5 1641.5 2665.5"/>
</g>
</g>
<g id="labels" filter="url(#ft)">
<text x="160.2" y="1310.4" font-size="53" font-weight="normal" fill="#111111" text-anchor="middle" textLength="86.7" lengthAdjust="spacingAndGlyphs" stroke="#111111" stroke-width="0.8">120</text>
<text x="353.5" y="1310.4" font-size="53" font-weight="normal" fill="#111111" text-anchor="middle" textLength="89.5" lengthAdjust="spacingAndGlyphs" stroke="#111111" stroke-width="0.8">160</text>
<text x="544.8" y="1310.4" font-size="53" font-weight="normal" fill="#111111" text-anchor="middle" textLength="91.7" lengthAdjust="spacingAndGlyphs" stroke="#111111" stroke-width="0.8">200</text>
<text x="737.9" y="1310.4" font-size="53" font-weight="normal" fill="#111111" text-anchor="middle" textLength="92.4" lengthAdjust="spacingAndGlyphs" stroke="#111111" stroke-width="0.8">240</text>
<text x="1188.4" y="1316.6" font-size="53" font-weight="normal" fill="#111111" text-anchor="middle" textLength="121.4" lengthAdjust="spacingAndGlyphs" stroke="#111111" stroke-width="0.8">1500</text>
<text x="1417.4" y="1316.6" font-size="53" font-weight="normal" fill="#111111" text-anchor="middle" textLength="121.0" lengthAdjust="spacingAndGlyphs" stroke="#111111" stroke-width="0.8">1600</text>
<text x="1646.3" y="1316.6" font-size="53" font-weight="normal" fill="#111111" text-anchor="middle" textLength="120.5" lengthAdjust="spacingAndGlyphs" stroke="#111111" stroke-width="0.8">1700</text>
<text x="160.0" y="2772.8" font-size="53" font-weight="normal" fill="#111111" text-anchor="middle" textLength="88.4" lengthAdjust="spacingAndGlyphs" stroke="#111111" stroke-width="0.8">120</text>
<text x="352.0" y="2772.8" font-size="53" font-weight="normal" fill="#111111" text-anchor="middle" textLength="89.0" lengthAdjust="spacingAndGlyphs" stroke="#111111" stroke-width="0.8">160</text>
<text x="544.0" y="2772.8" font-size="53" font-weight="normal" fill="#111111" text-anchor="middle" textLength="90.4" lengthAdjust="spacingAndGlyphs" stroke="#111111" stroke-width="0.8">200</text>
<text x="737.0" y="2772.8" font-size="53" font-weight="normal" fill="#111111" text-anchor="middle" textLength="90.7" lengthAdjust="spacingAndGlyphs" stroke="#111111" stroke-width="0.8">240</text>
<text x="1187.7" y="2772.8" font-size="53" font-weight="normal" fill="#111111" text-anchor="middle" textLength="121.1" lengthAdjust="spacingAndGlyphs" stroke="#111111" stroke-width="0.8">1500</text>
<text x="1413.9" y="2772.8" font-size="53" font-weight="normal" fill="#111111" text-anchor="middle" textLength="123.9" lengthAdjust="spacingAndGlyphs" stroke="#111111" stroke-width="0.8">1600</text>
<text x="1642.5" y="2772.8" font-size="53" font-weight="normal" fill="#111111" text-anchor="middle" textLength="122.9" lengthAdjust="spacingAndGlyphs" stroke="#111111" stroke-width="0.8">1700</text>
<text id="title-a"><tspan x="54" y="112.3" font-size="95" textLength="105" lengthAdjust="spacingAndGlyphs">(a)</tspan> <tspan x="186" y="112.3" font-size="95" textLength="314" lengthAdjust="spacingAndGlyphs">SWCNT</tspan></text>
<text id="title-b"><tspan x="59" y="1569.2" font-size="89.5" textLength="110" lengthAdjust="spacingAndGlyphs">(b)</tspan> <tspan x="193.5" y="1569.2" font-size="89.5" textLength="198.5" lengthAdjust="spacingAndGlyphs">PbCl</tspan><tspan x="390" y="1600" font-size="50" textLength="31" lengthAdjust="spacingAndGlyphs">2</tspan><tspan x="417.3" y="1575.6" font-size="100" textLength="90.7" lengthAdjust="spacingAndGlyphs">@</tspan><tspan x="508.3" y="1569.2" font-size="89.5" textLength="312" lengthAdjust="spacingAndGlyphs">SWCNT</tspan></text>
<text x="199.2" y="242.0" font-size="51" textLength="68.1" lengthAdjust="spacingAndGlyphs">x 4</text>
<text x="512.8" y="243.3" font-size="51" textLength="249.0" lengthAdjust="spacingAndGlyphs">RBM-band</text>
<text x="1054.2" y="242.3" font-size="51" textLength="62.6" lengthAdjust="spacingAndGlyphs">x 1</text>
<text x="1441.5" y="243.0" font-size="51" textLength="175.4" lengthAdjust="spacingAndGlyphs">G-band</text>
<text x="195.2" y="1710.1" font-size="51" textLength="70.1" lengthAdjust="spacingAndGlyphs">x 4</text>
<text x="512.8" y="1710.5" font-size="51" textLength="249.0" lengthAdjust="spacingAndGlyphs">RBM-band</text>
<text x="1054.2" y="1711.3" font-size="51" textLength="62.6" lengthAdjust="spacingAndGlyphs">x 1</text>
<text x="1441.5" y="1710.0" font-size="51" textLength="175.4" lengthAdjust="spacingAndGlyphs">G-band</text>
<text transform="translate(116 943.5) rotate(-90)" font-size="85" textLength="523.4" lengthAdjust="spacingAndGlyphs">Intensity, a.u.</text>
<text transform="translate(116 2401.3) rotate(-90)" font-size="85" textLength="522.9" lengthAdjust="spacingAndGlyphs">Intensity, a.u.</text>
<text><tspan x="602.2" y="1424.3" font-size="87" textLength="641.0" lengthAdjust="spacingAndGlyphs">Raman shift, cm</tspan><tspan x="1243.5" y="1395.5" font-size="49" textLength="36.5" lengthAdjust="spacingAndGlyphs">-1</tspan></text>
<text><tspan x="607.3" y="2885.8" font-size="87" textLength="642.5" lengthAdjust="spacingAndGlyphs">Raman shift, cm</tspan><tspan x="1248.0" y="2858.2" font-size="49" textLength="38.0" lengthAdjust="spacingAndGlyphs">-1</tspan></text>
<text x="815.0" y="522.5" font-size="52" fill="#0000a0" textLength="170.5" lengthAdjust="spacingAndGlyphs">647 nm</text>
<text x="815.0" y="639.4" font-size="52" fill="#808000" textLength="170.5" lengthAdjust="spacingAndGlyphs">633 nm</text>
<text x="815.0" y="761.0" font-size="52" fill="#ff1493" textLength="170.5" lengthAdjust="spacingAndGlyphs">568 nm</text>
<text x="815.0" y="882.7" font-size="52" fill="#008080" textLength="170.5" lengthAdjust="spacingAndGlyphs">531 nm</text>
<text x="815.0" y="999.4" font-size="52" fill="#0000ff" textLength="170.5" lengthAdjust="spacingAndGlyphs">514 nm</text>
<text x="815.0" y="1111.2" font-size="52" fill="#ff0000" textLength="170.5" lengthAdjust="spacingAndGlyphs">488 nm</text>
<text x="815.0" y="1225.3" font-size="52" fill="#000000" textLength="170.5" lengthAdjust="spacingAndGlyphs">458 nm</text>
<text x="810.5" y="1988.8" font-size="52" fill="#0000a0" textLength="169.5" lengthAdjust="spacingAndGlyphs">647 nm</text>
<text x="810.5" y="2100.8" font-size="52" fill="#808000" textLength="169.5" lengthAdjust="spacingAndGlyphs">633 nm</text>
<text x="810.5" y="2218.6" font-size="52" fill="#ff1493" textLength="169.5" lengthAdjust="spacingAndGlyphs">568 nm</text>
<text x="810.5" y="2335.4" font-size="52" fill="#008080" textLength="169.5" lengthAdjust="spacingAndGlyphs">531 nm</text>
<text x="810.5" y="2448.3" font-size="52" fill="#0000ff" textLength="169.5" lengthAdjust="spacingAndGlyphs">514 nm</text>
<text x="810.5" y="2564.2" font-size="52" fill="#ff0000" textLength="169.5" lengthAdjust="spacingAndGlyphs">488 nm</text>
<text x="810.5" y="2678.3" font-size="52" fill="#000000" textLength="169.5" lengthAdjust="spacingAndGlyphs">458 nm</text>
</g>
</svg>
</body>
</html>
